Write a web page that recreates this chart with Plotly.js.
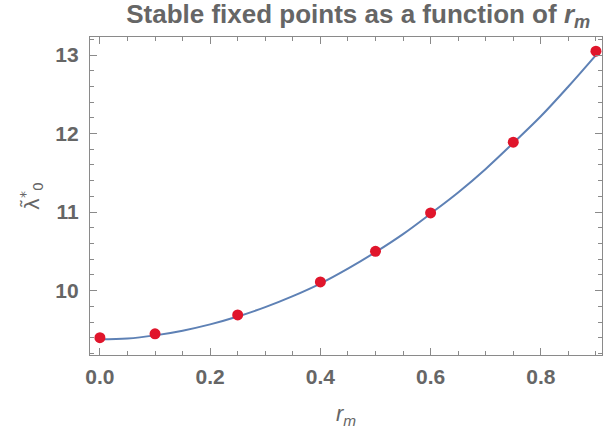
<!DOCTYPE html>
<html>
<head>
<meta charset="utf-8">
<script src="https://cdn.plot.ly/plotly-3.0.1.min.js"></script>
<style>html,body{margin:0;padding:0;background:#fff;}#chart{width:603px;height:433px;}</style>
</head>
<body>
<div id="chart"></div>
<script>
// Data points
const rmPoints = [0, 0.1, 0.25, 0.4, 0.5, 0.6, 0.75, 0.9];
const lambdaPoints = [9.40, 9.45, 9.69, 10.11, 10.50, 10.99, 11.89, 13.05];

// Fitted curve
const rmCurve = [0, 0.05, 0.1, 0.15, 0.2, 0.25, 0.3, 0.35, 0.4, 0.45, 0.5, 0.55, 0.6, 0.65, 0.7, 0.75, 0.8, 0.85, 0.9];
const lambdaCurve = [9.38, 9.39, 9.43, 9.49, 9.57, 9.67, 9.79, 9.93, 10.09, 10.28, 10.49, 10.72, 10.98, 11.25, 11.55, 11.88, 12.22, 12.60, 13.00];

const xTickVals = [0, 0.2, 0.4, 0.6, 0.8];
const xTickText = ['0.0', '0.2', '0.4', '0.6', '0.8'];
const yTickVals = [10, 11, 12, 13];
const yTickText = ['10', '11', '12', '13'];

const textColor = '#666666';
const frameColor = '#8a8a8a';
const tickFont = {family: 'Liberation Sans, Arial, sans-serif', size: 21, color: textColor, weight: 'bold'};

const traces = [
  {
    x: rmCurve, y: lambdaCurve, type: 'scatter', mode: 'lines',
    line: {color: '#5e81b5', width: 2, shape: 'spline'},
    hoverinfo: 'skip', showlegend: false
  },
  {
    x: rmPoints, y: lambdaPoints, type: 'scatter', mode: 'markers',
    marker: {color: '#e0152b', size: 11},
    showlegend: false, cliponaxis: false
  }
];

const layout = {
  width: 603, height: 433,
  margin: {l: 90, r: 1, t: 37, b: 78},
  paper_bgcolor: '#ffffff', plot_bgcolor: '#ffffff',
  showlegend: false,
  title: {
    text: 'Stable fixed points as a function of <i>r</i><sub><i>m</i></sub>',
    font: {family: 'Liberation Sans, Arial, sans-serif', size: 26, color: textColor, weight: 'bold'},
    x: 0.594, xref: 'container', xanchor: 'center',
    y: 0.968, yref: 'container', yanchor: 'middle'
  },
  xaxis: {
    range: [-0.018, 0.911],
    showgrid: false, zeroline: false,
    showline: true, linecolor: frameColor, linewidth: 1.2, mirror: 'ticks',
    ticks: 'inside', ticklen: 7, tickcolor: frameColor, tickwidth: 1,
    tickvals: xTickVals, ticktext: xTickText,
    tickfont: tickFont, ticklabelstandoff: 3,
    minor: {dtick: 0.05, tick0: 0, ticks: 'inside', ticklen: 4, tickcolor: frameColor, showgrid: false},
    title: {
      text: '<i>r</i><sub><i>m</i></sub>',
      font: {family: 'Liberation Sans, Arial, sans-serif', size: 22, color: textColor},
      standoff: 18
    }
  },
  yaxis: {
    range: [9.18, 13.23],
    showgrid: false, zeroline: false,
    showline: true, linecolor: frameColor, linewidth: 1.2, mirror: 'ticks',
    ticks: 'inside', ticklen: 7, tickcolor: frameColor, tickwidth: 1,
    tickvals: yTickVals, ticktext: yTickText,
    tickfont: tickFont, ticklabelstandoff: 6,
    minor: {dtick: 0.2, tick0: 9, ticks: 'inside', ticklen: 4, tickcolor: frameColor, showgrid: false},
    title: {
      text: 'λ̃<sup>*</sup><sub>0</sub>',
      font: {family: 'DejaVu Sans, sans-serif', size: 20, color: textColor},
      standoff: 10
    }
  }
};

Plotly.newPlot('chart', traces, layout, {staticPlot: true, displayModeBar: false});
</script>
</body>
</html>
